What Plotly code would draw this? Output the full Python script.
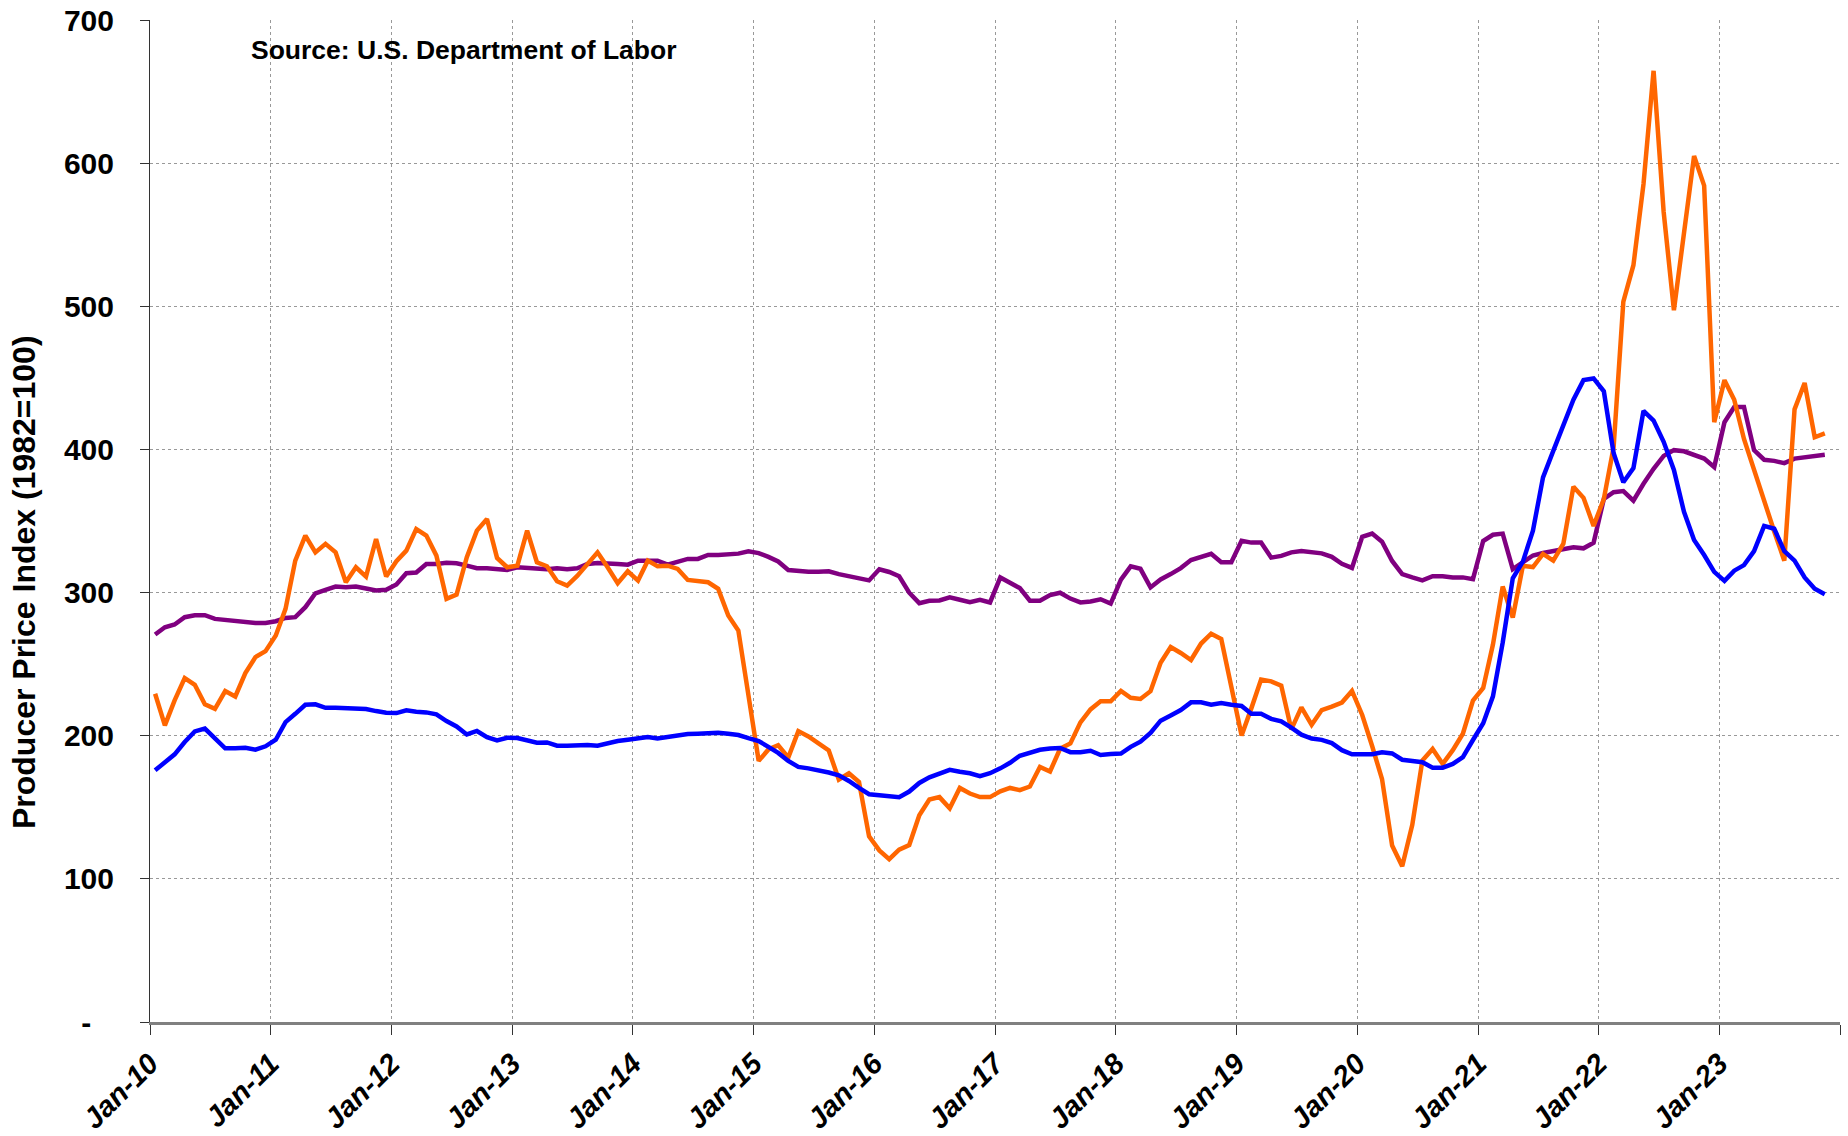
import pandas as pd
import plotly.graph_objects as go

# Monthly values, Jan-2010 .. Nov-2023
orange = [
    229.3, 207.2, 224.7, 240.2, 235.6, 221.9, 218.8, 231.2, 227.4, 243.7, 254.9, 259.1,
    270.0, 288.6, 322.3, 339.8, 328.1, 334.0, 328.1, 307.2, 317.7, 311.2, 337.4, 311.2,
    321.9, 329.3, 344.4, 339.8, 325.8, 295.6, 298.6, 324.7, 343.3, 351.4, 324.2, 317.7,
    318.8, 343.3, 321.2, 318.4, 307.9, 304.9, 311.6, 320.0, 328.1, 317.7, 306.5, 314.9,
    308.4, 322.3, 318.4, 318.8, 316.5, 308.8, 307.9, 307.2, 302.6, 284.0, 273.5, 228.0,
    182.4, 190.4, 193.4, 184.8, 203.2, 199.5, 194.6, 189.7, 169.4, 173.8, 167.7, 129.7,
    119.9, 113.8, 120.4, 123.6, 144.4, 155.4, 157.1, 149.3, 163.5, 159.6, 157.1, 157.1,
    161.1, 163.5, 162.0, 164.5, 178.2, 175.0, 190.9, 194.6, 209.3, 218.4, 224.0, 224.0,
    231.3, 226.5, 225.7, 231.1, 250.9, 262.0, 257.8, 252.9, 264.4, 271.3, 267.6, 234.0,
    200.2, 219.1, 239.2, 238.0, 235.0, 204.4, 219.8, 207.6, 217.9, 220.3, 223.2, 231.3,
    214.5, 192.8, 169.6, 123.3, 108.8, 137.8, 182.6, 190.7, 180.3, 189.9, 201.4, 224.6,
    233.3, 263.7, 304.2, 282.5, 318.7, 317.8, 327.0, 322.3, 334.1, 374.0, 366.2, 346.6,
    365.4, 401.4, 503.2, 528.7, 585.4, 664.5, 565.9, 497.3, 550.2, 605.0, 584.3, 419.0,
    448.4, 434.7, 407.3, 385.7, 362.3, 342.7, 322.3, 428.0, 446.4, 408.5, 411.2,
]

blue = [
    175.8, 181.0, 187.0, 195.6, 203.0, 205.0, 198.0, 191.2, 191.2, 191.6, 190.2, 192.6,
    197.2, 209.5, 215.3, 221.6, 221.9, 219.5, 219.5, 219.3, 219.0, 218.6, 217.2, 216.0,
    215.8, 217.7, 216.7, 216.3, 214.9, 210.2, 206.5, 200.9, 203.3, 199.0, 196.7, 198.6,
    198.4, 196.7, 195.1, 195.3, 193.0, 193.0, 193.5, 193.5, 193.0, 194.9, 196.3, 197.2,
    198.4, 199.1, 198.1, 199.3, 200.5, 201.2, 201.4, 201.9, 202.1, 201.4, 200.5, 198.3,
    196.3, 192.2, 188.0, 182.4, 178.2, 177.2, 176.0, 174.3, 172.3, 168.4, 163.5, 159.1,
    158.4, 157.4, 157.1, 161.0, 167.0, 170.9, 173.3, 176.2, 174.8, 173.8, 171.8, 173.8,
    177.2, 181.1, 186.0, 188.5, 190.2, 191.0, 191.4, 188.5, 188.5, 189.5, 186.5, 187.3,
    187.5, 192.2, 195.8, 202.0, 210.5, 214.2, 217.9, 223.3, 223.3, 221.6, 222.8, 221.6,
    220.8, 215.4, 215.4, 211.8, 210.0, 205.6, 200.7, 198.0, 197.1, 194.8, 189.9, 187.0,
    187.0, 187.0, 188.4, 187.6, 183.2, 182.1, 181.5, 177.7, 177.7, 180.3, 185.0, 197.0,
    208.7, 227.5, 265.0, 310.0, 321.6, 343.3, 380.5, 399.0, 417.0, 434.7, 448.4, 449.6,
    440.6, 397.5, 377.1, 386.9, 426.9, 420.2, 405.3, 385.7, 356.4, 336.8, 326.2, 314.5,
    308.2, 315.3, 319.2, 329.0, 346.6, 344.6, 329.0, 322.3, 310.6, 302.7, 298.8,
]

purple = [
    270.7, 275.8, 277.7, 282.8, 284.2, 284.2, 281.6, 280.9, 280.0, 279.3, 278.8, 278.8,
    280.0, 282.3, 282.8, 289.8, 299.5, 301.9, 304.2, 303.7, 304.2, 302.8, 301.4, 301.9,
    305.6, 313.5, 314.0, 320.0, 320.0, 320.9, 320.5, 318.8, 317.0, 317.0, 316.7, 315.8,
    317.7, 317.0, 317.0, 316.3, 317.0, 316.3, 317.0, 320.0, 320.7, 320.7, 320.0, 319.5,
    322.3, 322.3, 322.3, 319.5, 321.9, 323.5, 323.5, 326.3, 326.3, 327.0, 327.2, 328.8,
    327.6, 324.9, 321.7, 315.8, 315.1, 314.6, 314.6, 314.9, 312.9, 311.4, 310.2, 308.5,
    316.3, 314.4, 311.4, 299.9, 292.6, 294.3, 294.5, 296.7, 295.0, 293.3, 295.0, 293.1,
    310.5, 306.5, 303.1, 294.3, 294.3, 298.2, 299.9, 295.8, 293.1, 293.8, 295.3, 292.3,
    309.0, 318.3, 316.6, 303.6, 309.2, 312.9, 317.1, 322.7, 324.9, 327.1, 321.2, 321.2,
    336.2, 334.9, 334.9, 324.4, 325.6, 328.1, 329.1, 328.2, 327.4, 325.0, 320.1, 317.2,
    338.9, 341.2, 335.5, 322.1, 312.9, 310.6, 308.5, 311.4, 311.4, 310.6, 310.6, 309.4,
    336.0, 340.4, 341.2, 316.4, 321.0, 325.9, 327.6, 329.0, 330.1, 331.7, 330.9, 334.8,
    365.4, 370.1, 370.9, 364.2, 376.0, 386.5, 395.5, 399.5, 398.7, 396.3, 393.6, 387.7,
    419.0, 429.6, 429.6, 399.5, 392.8, 392.0, 390.4, 393.6, 394.4, 395.1, 396.3,
]

months = pd.date_range("2010-01-01", periods=len(blue), freq="MS")

year_ticks = [f"{y}-01-01" for y in range(2010, 2025)]
year_labels = [f"Jan-{y % 100:02d}" for y in range(2010, 2024)] + [""]

y_ticks = [0, 100, 200, 300, 400, 500, 600, 700]
y_labels = ["-\u00a0\u00a0\u2009", "100", "200", "300", "400", "500", "600", "700"]

FONT = "Liberation Sans, Arial, sans-serif"

fig = go.Figure()
for vals, color in [(purple, "#800080"), (orange, "#FF6600"), (blue, "#0000FF")]:
    fig.add_trace(go.Scatter(
        x=months, y=vals, mode="lines",
        xperiod="M1", xperiodalignment="middle",
        line=dict(color=color, width=4.5),
        showlegend=False, hoverinfo="skip",
    ))

fig.update_layout(
    width=1848, height=1136,
    margin=dict(l=150, r=8, t=20, b=114),
    paper_bgcolor="white", plot_bgcolor="white",
    font=dict(family=FONT, color="black"),
    xaxis=dict(
        type="date", range=["2010-01-01", "2024-01-01"],
        tickmode="array", tickvals=year_ticks, ticktext=year_labels,
        tickangle=-45, automargin=False,
        tickfont=dict(family=FONT, size=29, weight="bold", style="italic", color="black"),
        showgrid=True, gridcolor="#999999", griddash="dot", gridwidth=1,
        showline=True, linecolor="#808080", linewidth=3,
        ticks="outside", ticklen=10, tickcolor="#333", tickwidth=1,
        zeroline=False,
    ),
    yaxis=dict(
        range=[0, 700], automargin=False,
        tickmode="array", tickvals=y_ticks, ticktext=y_labels,
        tickfont=dict(family=FONT, size=30, weight="bold", color="black"),
        showgrid=True, gridcolor="#999999", griddash="dot", gridwidth=1,
        showline=True, linecolor="#333", linewidth=1,
        ticks="outside", ticklen=9, tickcolor="#333", tickwidth=1,
        ticklabelstandoff=20,
        zeroline=False,
    ),
    annotations=[
        dict(text="Source: U.S. Department of Labor", xref="paper", yref="paper",
             x=0.0586, y=0.9705, xanchor="left", yanchor="middle", showarrow=False,
             font=dict(family=FONT, size=26.5, weight="bold", color="black")),
        dict(text="Producer Price Index (1982=100)", xref="paper", yref="paper",
             x=-0.0746, y=0.439, xanchor="center", yanchor="middle", showarrow=False,
             textangle=-90,
             font=dict(family=FONT, size=32, weight="bold", color="black")),
    ],
)

fig.write_html(
    "out.html",
    config={"displayModeBar": False},
    post_script="document.body.style.margin='0';document.body.style.overflow='hidden';",
)
